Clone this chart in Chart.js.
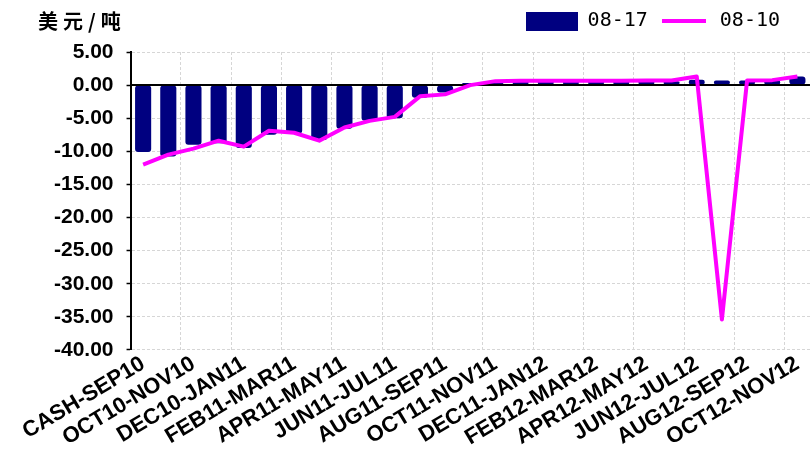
<!DOCTYPE html>
<html>
<head>
<meta charset="utf-8">
<script src="https://cdn.jsdelivr.net/npm/chart.js@4"></script>
<style>
  html, body { margin: 0; padding: 0; background: #fff; overflow: hidden; }
  canvas { display: block; }
</style>
</head>
<body>
<canvas id="SpreadChart" width="812" height="452"></canvas>
<script>
const SPREADS = ['CASH-SEP10', 'SEP10-OCT10', 'OCT10-NOV10', 'NOV10-DEC10', 'DEC10-JAN11', 'JAN11-FEB11',
    'FEB11-MAR11', 'MAR11-APR11', 'APR11-MAY11', 'MAY11-JUN11', 'JUN11-JUL11', 'JUL11-AUG11',
    'AUG11-SEP11', 'SEP11-OCT11', 'OCT11-NOV11', 'NOV11-DEC11', 'DEC11-JAN12', 'JAN12-FEB12',
    'FEB12-MAR12', 'MAR12-APR12', 'APR12-MAY12', 'MAY12-JUN12', 'JUN12-JUL12', 'JUL12-AUG12',
    'AUG12-SEP12', 'SEP12-OCT12', 'OCT12-NOV12']
// 08-17 bars, 08-10 line (USD/t)
const AUG17 = [-10.1, -10.8, -9.0, -8.8, -9.5, -7.5, -7.3, -8.3, -6.6, -5.4, -5.0, -1.9, -1.1, 0.3,
    0.6, 0.6, 0.6, 0.6, 0.6, 0.6, 0.6, 0.6, 0.8, 0.7, 0.7, 0.7, 1.3]
const AUG10 = [-12.0, -10.5, -9.6, -8.4, -9.3, -6.9, -7.2, -8.4, -6.4, -5.4, -4.8, -1.7, -1.4, 0.0,
    0.6, 0.65, 0.65, 0.65, 0.65, 0.65, 0.7, 0.7, 1.3, -35.4, 0.7, 0.75, 1.3]
const SERIES_NAMES = ['08-17', '08-10']
const UNIT = '美元/吨'
const Y_MIN = -40
const Y_MAX = 5
const Y_STEP = 5

const NAVY = '#000080'
const MAGENTA = '#ff00ff'

// little legend icons: a box for the bars, a short thick line for the line
function makeIcon(w, h, color){
    const c = document.createElement('canvas')
    c.width = w
    c.height = h
    const g = c.getContext('2d')
    g.fillStyle = color
    g.fillRect(0, 0, w, h)
    return c
}
const barIcon = makeIcon(52, 19, NAVY)
const lineIcon = makeIcon(44, 4, MAGENTA)

const extras = {
    id: 'extras',
    afterLayout(chart){
        // legend sits higher and more to the left than the layout puts it
        chart.legend.top -= 11
        chart.legend.bottom -= 11
        chart.legend.left -= 22
        chart.legend.right -= 22
    },
    afterDatasetDraw(chart, args){
        if (args.index !== 0) return
        const {ctx, chartArea} = chart
        const y0 = Math.round(chart.scales.y.getPixelForValue(0))
        ctx.save()
        ctx.strokeStyle = '#000'
        ctx.lineWidth = 2
        ctx.beginPath()
        ctx.moveTo(chartArea.left, y0)
        ctx.lineTo(chartArea.right, y0)
        ctx.stroke()
        ctx.restore()
    },
    afterDraw(chart){
        const ctx = chart.ctx
        ctx.save()
        ctx.fillStyle = '#000'
        ctx.font = 'bold 20px "Noto Sans CJK SC"'
        ctx.letterSpacing = '5px'
        ctx.textBaseline = 'alphabetic'
        ctx.fillText(UNIT, 38, 29)
        ctx.restore()
    }
}

const chart = new Chart('SpreadChart', {
    type: 'bar',
    data: {
        labels: SPREADS,
        datasets: [
            {
                label: SERIES_NAMES[0],
                data: AUG17,
                backgroundColor: NAVY,
                borderRadius: 3,
                borderSkipped: false,
                categoryPercentage: 0.8,
                barPercentage: 0.8,
                order: 1
            },
            {
                type: 'line',
                label: SERIES_NAMES[1],
                data: AUG10,
                borderColor: MAGENTA,
                backgroundColor: MAGENTA,
                borderWidth: 4,
                borderJoinStyle: 'round',
                pointRadius: 0,
                tension: 0,
                order: 0
            }
        ]
    },
    options: {
        responsive: false,
        animation: false,
        devicePixelRatio: 1,
        layout: {padding: {top: 12, left: 41, right: 0, bottom: 0}},
        plugins: {
            tooltip: {enabled: false},
            legend: {
                position: 'top',
                align: 'end',
                labels: {
                    usePointStyle: true,
                    pointStyleWidth: 52,
                    boxHeight: 19,
                    padding: 10,
                    color: '#000',
                    font: {family: '"DejaVu Sans Mono"', size: 20},
                    sort: (a, b) => a.datasetIndex - b.datasetIndex,
                    generateLabels: (c) => Chart.defaults.plugins.legend.labels.generateLabels(c)
                        .map(l => ({...l, pointStyle: l.datasetIndex === 0 ? barIcon : lineIcon}))
                }
            }
        },
        scales: {
            x: {
                offset: true,
                grid: {
                    offset: true,
                    drawTicks: false,
                    color: (c) => (c.index > 0 && c.index % 2 === 0) ? '#d6d6d6' : 'rgba(0,0,0,0)',
                    lineWidth: 1
                },
                border: {display: false, dash: [3, 2]},
                ticks: {
                    autoSkip: false,
                    minRotation: 31,
                    maxRotation: 31,
                    padding: 1,
                    color: '#000',
                    font: {family: '"Liberation Sans"', size: 22, weight: 'bold'},
                    callback: function(v, i){
                        return i % 2 === 0 ? this.getLabelForValue(v) : ''
                    }
                }
            },
            y: {
                min: Y_MIN,
                max: Y_MAX,
                grid: {
                    color: '#d6d6d6',
                    lineWidth: 1,
                    tickColor: '#000',
                    tickLength: 4,
                    tickWidth: 1.5
                },
                border: {display: true, color: '#000', width: 2, dash: [3, 2]},
                ticks: {
                    stepSize: Y_STEP,
                    padding: 13,
                    color: '#000',
                    font: {family: '"Liberation Sans"', size: 21, weight: 'bold'},
                    callback: (v) => v.toFixed(2)
                }
            }
        }
    },
    plugins: [extras]
})
</script>
</body>
</html>
